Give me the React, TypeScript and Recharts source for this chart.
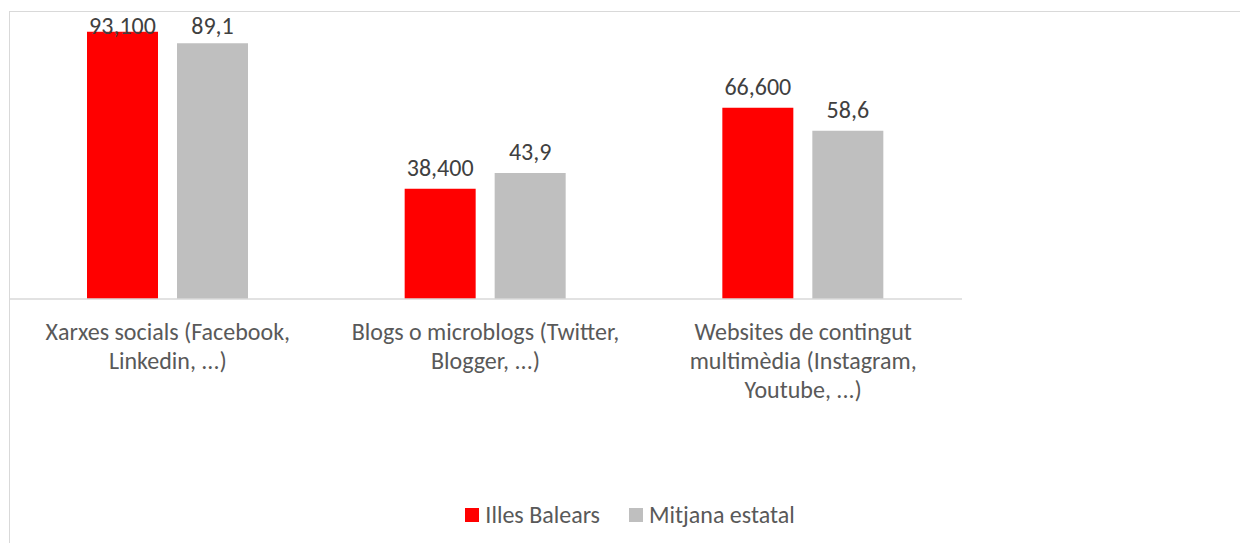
import { BarChart, Bar, XAxis, YAxis, Legend, LabelList } from "recharts";

const categories = [
  ["Xarxes socials (Facebook,", "Linkedin, ...)"],
  ["Blogs o microblogs (Twitter,", "Blogger, ...)"],
  ["Websites de contingut", "multimèdia (Instagram,", "Youtube, ...)"],
];
const balears = [93.1, 38.4, 66.6];
const estatal = [89.1, 43.9, 58.6];
const balearsLabels = ["93,100", "38,400", "66,600"];
const estatalLabels = ["89,1", "43,9", "58,6"];

const FONT = "Carlito, Calibri, Lato, sans-serif";
const RED = "#ff0000";
const GREY = "#bfbfbf";

const data = categories.map((lines, i) => ({
  name: lines.join(" "),
  balears: balears[i],
  estatal: estatal[i],
}));

function CategoryTick(props: any) {
  const { x, y, index } = props;
  const lines = categories[index] || [];
  return (
    <text x={x} y={y} textAnchor="middle" fill="#595959" fontSize={24} fontFamily={FONT}>
      {lines.map((l, i) => (
        <tspan key={i} x={x} dy={i === 0 ? 33 : 29}>
          {l}
        </tspan>
      ))}
    </text>
  );
}

function makeLabel(texts: string[]) {
  return (props: any) => {
    const { x, y, width, index } = props;
    const base = Math.max(y - 13, 34);
    return (
      <text
        x={x + width / 2}
        y={base}
        textAnchor="middle"
        fill="#404040"
        fontSize={24}
        fontFamily={FONT}
      >
        {texts[index]}
      </text>
    );
  };
}

function LegendBox() {
  const items = [
    { label: "Illes Balears", color: RED },
    { label: "Mitjana estatal", color: GREY },
  ];
  return (
    <div
      style={{
        display: "flex",
        justifyContent: "center",
        paddingTop: 2,
        fontFamily: FONT,
        fontSize: 24,
        color: "#595959",
        lineHeight: "28px",
      }}
    >
      {items.map((it, i) => (
        <div key={i} style={{ display: "flex", alignItems: "center", marginLeft: i ? 29 : 0 }}>
          <span style={{ width: 14, height: 14, background: it.color, marginRight: 6 }} />
          <span>{it.label}</span>
        </div>
      ))}
    </div>
  );
}

export default function App() {
  return (
    <div style={{ position: "absolute", left: 0, top: 0, width: 1240, height: 543, background: "#fff" }}>
      <div
        style={{
          position: "absolute",
          left: 9,
          top: 11,
          width: 1240,
          height: 540,
          borderLeft: "1.5px solid #d9d9d9",
          borderTop: "1.5px solid #d9d9d9",
        }}
      />
      <BarChart
        width={1240}
        height={543}
        data={data}
        margin={{ top: 12, right: 278, bottom: 0, left: 9 }}
        barGap={19}
        style={{ position: "absolute", left: 0, top: 0 }}
      >
        <XAxis
          dataKey="name"
          height={200}
          tickLine={false}
          axisLine={{ stroke: "#d9d9d9", strokeWidth: 1.5 }}
          tick={<CategoryTick />}
          interval={0}
        />
        <YAxis hide domain={[0, 100]} />
        <Legend
          verticalAlign="bottom"
          height={44}
          content={<LegendBox />}
          wrapperStyle={{ left: 0, width: 1260, bottom: 0, height: 44 }}
        />
        <Bar dataKey="balears" name="Illes Balears" fill={RED} barSize={71} isAnimationActive={false}>
          <LabelList dataKey="balears" content={makeLabel(balearsLabels)} />
        </Bar>
        <Bar dataKey="estatal" name="Mitjana estatal" fill={GREY} barSize={71} isAnimationActive={false}>
          <LabelList dataKey="estatal" content={makeLabel(estatalLabels)} />
        </Bar>
      </BarChart>
    </div>
  );
}
